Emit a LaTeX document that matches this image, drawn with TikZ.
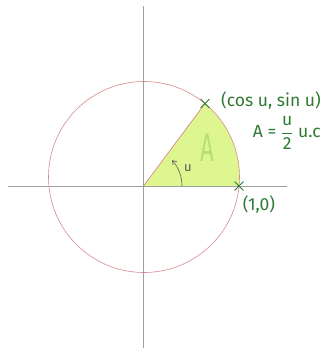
\documentclass[tikz,border=0pt]{standalone}
\usepackage{fontspec}
\setmainfont{Fira Sans}
\usetikzlibrary{arrows.meta,positioning,calc,shapes.misc}
\definecolor{axisgray}{HTML}{A0A0A0}
\definecolor{circred}{HTML}{D68A8C}
\definecolor{sectorfill}{HTML}{DDF68F}
\definecolor{inkgreen}{HTML}{2F7A33}
\definecolor{softgreen}{HTML}{B8E070}
\definecolor{pencil}{HTML}{5A5A5A}

\begin{document}
\begin{tikzpicture}[x=1pt,y=1pt,
  lbl/.style={text=inkgreen,font=\fontsize{17.5}{20}\selectfont,inner sep=1pt},
  ptcross/.style={draw=inkgreen,cross out,line width=0.9pt,minimum size=8pt,inner sep=0pt},
  >={Straight Barb[length=1.3mm,width=1.8mm]}]
\useasboundingbox (0,0) rectangle (322,-349);
\coordinate (origin) at (143.5,-186);
\coordinate (centre) at (144,-177);
\coordinate (xleft) at (8,-186);
\coordinate (xright) at (287,-186);
\coordinate (ytop) at (143.5,-6);
\coordinate (ybottom) at (143.5,-348);
\coordinate (unitpt) at ($(centre)+(-5.4:95.5)$);
\coordinate (anglept) at ($(centre)+(50.3:95.5)$);
% sector
\fill[sectorfill] (origin) -- (unitpt) arc[start angle=-5.4,end angle=50.3,radius=95.5] -- cycle;
% axes and circle
\draw[axisgray,line width=0.7pt] (xleft) -- (xright);
\draw[axisgray,line width=0.7pt] (ytop) -- (ybottom);
\draw[circred,line width=0.6pt] (centre) circle[radius=95.5];
\draw[circred,line width=0.7pt] (origin) -- (anglept);
% angle
\draw[->,pencil,line width=0.6pt] ($(origin)+(38.5,0)$) arc[start angle=0,end angle=42,radius=38.5];
\node[text=pencil,font=\fontsize{13}{15}\selectfont] (ulbl) at (188,-168) {u};
\node[text=softgreen,font=\fontsize{40}{42}\selectfont] (bigA) at (207,-148) {\scalebox{0.6}[1]{A}};
% points
\node[ptcross] (p1) at (unitpt) {};
\node[ptcross] (p2) at (anglept) {};
\node[lbl,anchor=east] (cossin) at (322,-101) {(cos u, sin u)};
\node[lbl,anchor=east] (area) at (322,-133) {A = $\displaystyle\frac{\mbox{u}}{\mbox{2}}$ u.c};
\node[lbl] (onezero) at (259,-205) {(1,0)};
\end{tikzpicture}
\end{document}
